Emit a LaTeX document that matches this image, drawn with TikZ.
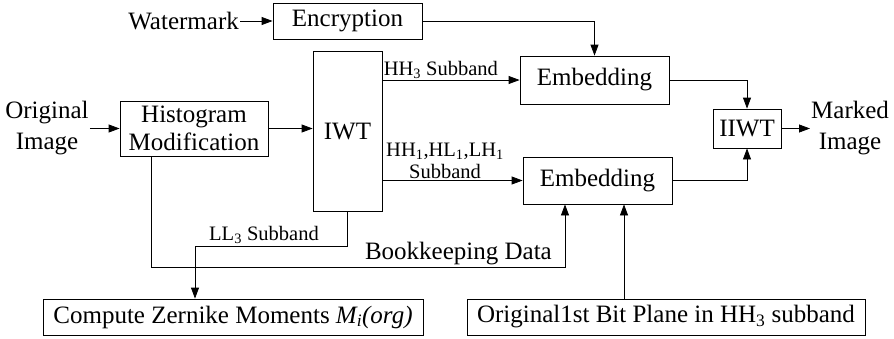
\documentclass[tikz,border=0pt]{standalone}
\usepackage{fontspec}
\setmainfont{Liberation Serif}
\usetikzlibrary{arrows.meta}
\begin{document}
\begin{tikzpicture}[x=1pt,y=-1pt,
  blk/.style={draw,line width=0.8pt,inner sep=0pt,align=center,font=\fontsize{25}{28}\selectfont},
  txt/.style={inner sep=1pt,align=center,font=\fontsize{25}{31}\selectfont},
  lbl/.style={inner sep=1pt,align=center,font=\fontsize{20.5}{22}\selectfont},
  con/.style={line width=0.8pt},
  arr/.style={con,-{Triangle[length=11pt,width=8pt]}}]
\useasboundingbox (0,0) rectangle (894,338);
% blocks
\node[blk,minimum width=149pt,minimum height=36pt] (enc) at (347.5,21) {Encryption};
\node[blk,minimum width=69pt,minimum height=160pt] (iwt) at (347.5,131) {IWT};
\node[blk,minimum width=148pt,minimum height=55pt] (hist) at (194,128.5) {Histogram\\Modification};
\node[blk,minimum width=149pt,minimum height=48pt] (embT) at (594.5,80) {Embedding};
\node[blk,minimum width=68pt,minimum height=39pt] (iiwt) at (747,128.5) {IIWT};
\node[blk,minimum width=149pt,minimum height=47pt] (embB) at (597.5,180.5) {Embedding};
\node[blk,minimum width=380pt,minimum height=36pt] (zern) at (233,317) {Compute Zernike Moments \textit{M\textsubscript{i}(org)}};
\node[blk,minimum width=398pt,minimum height=36pt] (bp) at (666,317) {Original1st Bit Plane in HH\textsubscript{3} subband};
% free texts
\node[txt,anchor=east] (wm) at (240,21) {Watermark};
\node[txt] (orig) at (47,128) {Original\\Image};
\node[txt,anchor=west] (mk) at (810,128) {Marked\\Image};
% routing points
\coordinate (bk1) at (151,267);
\coordinate (bk2) at (565,267);
\coordinate (ll1) at (347.5,246);
\coordinate (ll2) at (195,246);
\coordinate (bpx) at (624,0);
% connectors
\draw[arr] (wm.east) -- (enc.west);
\draw[arr] (enc.east) -| (embT.north);
\draw[arr] (iwt.east |- embT.west) -- node[lbl,pos=0,anchor=south west]{HH\textsubscript{3} Subband} (embT.west);
\draw[arr] (iwt.east |- embB.west) -- (embB.west);
\node[lbl,anchor=south] (hhl) at (445,180) {HH\textsubscript{1},HL\textsubscript{1},LH\textsubscript{1}\\Subband};
\draw[arr] (embT.east) -| (iiwt.north);
\draw[arr] (embB.east) -| (iiwt.south);
\draw[arr] (iiwt.east) -- (iiwt.east -| mk.west);
\draw[arr] (orig.east |- hist.west) -- (hist.west);
\draw[arr] (hist.east) -- (hist.east -| iwt.west);
\draw[arr] (hist.south -| bk1) -- (bk1) -- (bk2) -- (bk2 |- embB.south);
\node[txt,anchor=south east,inner sep=1pt] (bkl) at (553,266) {Bookkeeping Data};
\draw[arr] (iwt.south) -- (ll1) -- (ll2) -- (ll2 |- zern.north);
\node[lbl,anchor=south] (lll) at (264,245) {LL\textsubscript{3} Subband};
\draw[arr] (bp.north -| bpx) -- (bpx |- embB.south);
\end{tikzpicture}
\end{document}
